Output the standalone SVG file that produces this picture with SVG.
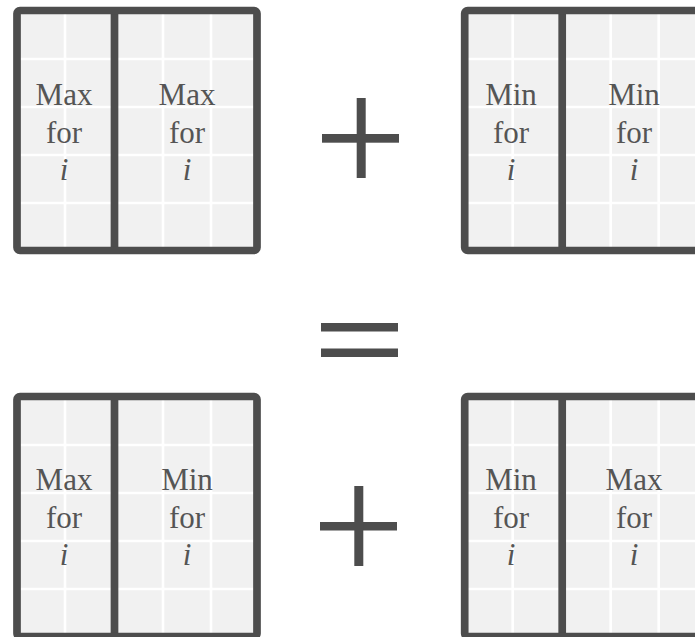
<svg xmlns="http://www.w3.org/2000/svg" xmlns:xlink="http://www.w3.org/1999/xlink" width="695" height="637" viewBox="0 0 695 637">
  <style>
    .cell { fill: #f1f1f1; }
    .grid { stroke: #ffffff; stroke-width: 2.6; fill: none; }
    .frame { stroke: #4d4d4d; stroke-width: 7.7; fill: none; }
    .divider { stroke: #4d4d4d; stroke-width: 7.7; }
    .op { fill: #4d4d4d; }
    .lbl { font-family: "Liberation Serif", "DejaVu Serif", serif; font-size: 31px; fill: #555555; text-anchor: middle; }
    .var { font-style: italic; }
  </style>
  <defs>
    <!-- one 5x5 grid panel split after the second column -->
    <g id="panel">
      <rect class="cell" x="0" y="0" width="240" height="240"/>
      <path class="grid" d="M48 0V240M146 0V240M194 0V240M0 48.5H240M0 96.5H240M0 144.5H240M0 192.5H240"/>
      <line class="divider" x1="97.5" y1="0" x2="97.5" y2="240"/>
      <rect class="frame" x="0" y="0" width="240" height="240" rx="3"/>
    </g>
  </defs>

  <g id="top-left">
    <use xlink:href="#panel" href="#panel" transform="translate(17,10.5)"/>
    <text class="lbl" x="64" y="105">Max</text>
    <text class="lbl" x="64" y="143">for</text>
    <text class="lbl var" x="64" y="180">i</text>
    <text class="lbl" x="187" y="105">Max</text>
    <text class="lbl" x="187" y="143">for</text>
    <text class="lbl var" x="187" y="180">i</text>
  </g>

  <g id="top-right">
    <use xlink:href="#panel" href="#panel" transform="translate(464.7,10.5)"/>
    <text class="lbl" x="511" y="105">Min</text>
    <text class="lbl" x="511" y="143">for</text>
    <text class="lbl var" x="511" y="180">i</text>
    <text class="lbl" x="634" y="105">Min</text>
    <text class="lbl" x="634" y="143">for</text>
    <text class="lbl var" x="634" y="180">i</text>
  </g>

  <g id="bottom-left">
    <use xlink:href="#panel" href="#panel" transform="translate(17,396.5)"/>
    <text class="lbl" x="64" y="490">Max</text>
    <text class="lbl" x="64" y="528">for</text>
    <text class="lbl var" x="64" y="565">i</text>
    <text class="lbl" x="187" y="490">Min</text>
    <text class="lbl" x="187" y="528">for</text>
    <text class="lbl var" x="187" y="565">i</text>
  </g>

  <g id="bottom-right">
    <use xlink:href="#panel" href="#panel" transform="translate(464.7,396.5)"/>
    <text class="lbl" x="511" y="490">Min</text>
    <text class="lbl" x="511" y="528">for</text>
    <text class="lbl var" x="511" y="565">i</text>
    <text class="lbl" x="634" y="490">Max</text>
    <text class="lbl" x="634" y="528">for</text>
    <text class="lbl var" x="634" y="565">i</text>
  </g>

  <g id="operators">
    <!-- plus, top row -->
    <rect class="op" x="322" y="134" width="77" height="8.7"/>
    <rect class="op" x="356.7" y="98" width="9" height="80"/>
    <!-- equals -->
    <rect class="op" x="321" y="323" width="77" height="8.5"/>
    <rect class="op" x="321" y="348.5" width="77" height="8.5"/>
    <!-- plus, bottom row -->
    <rect class="op" x="320" y="522" width="77" height="8.5"/>
    <rect class="op" x="354.3" y="486" width="9" height="80"/>
  </g>
</svg>
